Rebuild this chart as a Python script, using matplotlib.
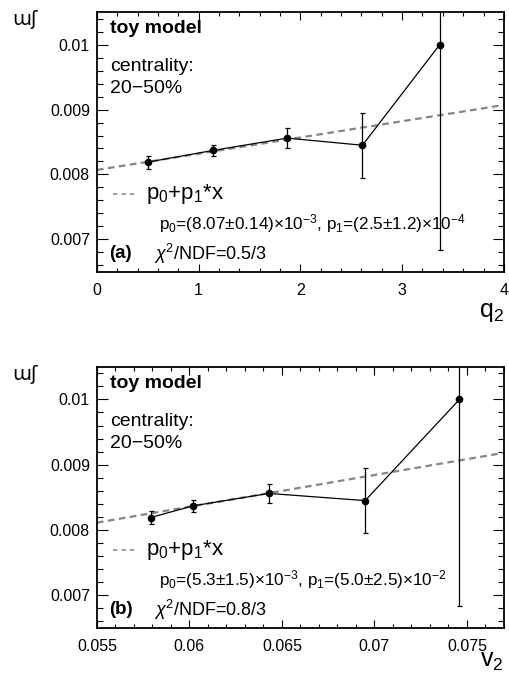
import matplotlib
matplotlib.use("Agg")
import matplotlib.pyplot as plt
import numpy as np
from matplotlib.ticker import MultipleLocator, FuncFormatter

plt.rcParams["font.family"] = ["Liberation Sans", "DejaVu Sans"]
plt.rcParams["mathtext.fontset"] = "custom"
plt.rcParams["mathtext.rm"] = "Liberation Sans"
plt.rcParams["mathtext.it"] = "Liberation Sans:italic"
plt.rcParams["mathtext.bf"] = "Liberation Sans:bold"

# values
q2 = [0.50, 1.14, 1.87, 2.61, 3.37]
v2 = [0.0579, 0.0602, 0.0643, 0.0695, 0.0746]
xi = [0.00819, 0.00837, 0.00856, 0.00845, 0.0100]
xi_err = [0.00010, 0.00009, 0.00015, 0.00050, 0.00316]

# linear fits p0 + p1*x
fit_q2 = (8.07e-3, 2.5e-4)
fit_v2 = (5.44e-3, 4.86e-2)

fit_text_q2 = r"p$_0$=(8.07$\pm$0.14)$\times$10$^{-3}$, p$_1$=(2.5$\pm$1.2)$\times$10$^{-4}$"
fit_text_v2 = r"p$_0$=(5.3$\pm$1.5)$\times$10$^{-3}$, p$_1$=(5.0$\pm$2.5)$\times$10$^{-2}$"
chi2_q2 = r"$\chi^2$/NDF=0.5/3"
chi2_v2 = r"$\chi^2$/NDF=0.8/3"


def fmt_tick(v, pos):
    return "%g" % round(v, 6)


def draw_panel(ax, x, fit, xlim, xmajor, xminor, xlabel, label_y, fit_text, chi2, tag):
    ax.set_xlim(*xlim)
    ax.set_ylim(0.0065, 0.0105)

    xs = np.linspace(xlim[0], xlim[1], 50)
    ax.plot(xs, fit[0] + fit[1] * xs, ls=(0, (3, 2)), color="#858585", lw=1.6, zorder=2)

    ax.plot(x, xi, color="black", lw=0.9, zorder=3)
    ax.errorbar(x, xi, yerr=xi_err, fmt="o", color="black", ms=4.5,
                elinewidth=0.9, capsize=1.8, capthick=0.9, zorder=4)

    ax.xaxis.set_major_locator(MultipleLocator(xmajor))
    ax.xaxis.set_minor_locator(MultipleLocator(xminor))
    ax.yaxis.set_major_locator(MultipleLocator(0.001))
    ax.yaxis.set_minor_locator(MultipleLocator(0.0002))
    ax.xaxis.set_major_formatter(FuncFormatter(fmt_tick))
    ax.yaxis.set_major_formatter(FuncFormatter(fmt_tick))
    ax.tick_params(axis="both", which="both", direction="in", top=True, right=True,
                   labelsize=11.5, width=0.8)
    ax.tick_params(axis="y", which="major", length=8, pad=5)
    ax.tick_params(axis="y", which="minor", length=4)
    ax.tick_params(axis="x", which="major", length=6, pad=8)
    ax.tick_params(axis="x", which="minor", length=3)
    for sp in ax.spines.values():
        sp.set_linewidth(1.3)

    ax.text(0.032, 0.935, "toy model", transform=ax.transAxes, fontsize=14,
            fontweight="bold", va="center")
    ax.text(0.032, 0.79, "centrality:", transform=ax.transAxes, fontsize=14, va="center")
    ax.text(0.032, 0.705, "20\u221250%", transform=ax.transAxes, fontsize=14, va="center")

    ax.plot([0.04, 0.093], [0.30, 0.30], transform=ax.transAxes, ls=(0, (3, 2.5)),
            color="#858585", lw=1.1)
    ax.text(0.12, 0.30, r"p$_0$+p$_1$*x", transform=ax.transAxes, fontsize=16, va="center")
    ax.text(0.152, 0.185, fit_text, transform=ax.transAxes, fontsize=12.3, va="center")
    ax.text(0.140, 0.07, chi2, transform=ax.transAxes, fontsize=13, va="center")
    ax.text(0.030, 0.07, tag, transform=ax.transAxes, fontsize=13.5,
            fontweight="bold", va="center")

    ax.text(1.0, label_y, xlabel, transform=ax.transAxes, fontsize=18, ha="right", va="top")


fig = plt.figure(figsize=(5.10, 6.73), dpi=100)
ax1 = fig.add_axes([0.190, 0.596, 0.798, 0.386])
ax2 = fig.add_axes([0.190, 0.067, 0.798, 0.388])

draw_panel(ax1, q2, fit_q2, (0, 4), 1, 0.2, r"q$_2$", -0.11,
           fit_text_q2, chi2_q2, "(a)")
draw_panel(ax2, v2, fit_v2, (0.055, 0.077), 0.005, 0.001, r"v$_2$", -0.08,
           fit_text_v2, chi2_v2, "(b)")

# y-axis symbol at the top left of each panel
fig.text(0.024, 0.971, "\u026f\u0283", fontsize=14, family=["DejaVu Sans"], va="center")
fig.text(0.024, 0.444, "\u026f\u0283", fontsize=14, family=["DejaVu Sans"], va="center")

fig.savefig("out.png", dpi=100)
